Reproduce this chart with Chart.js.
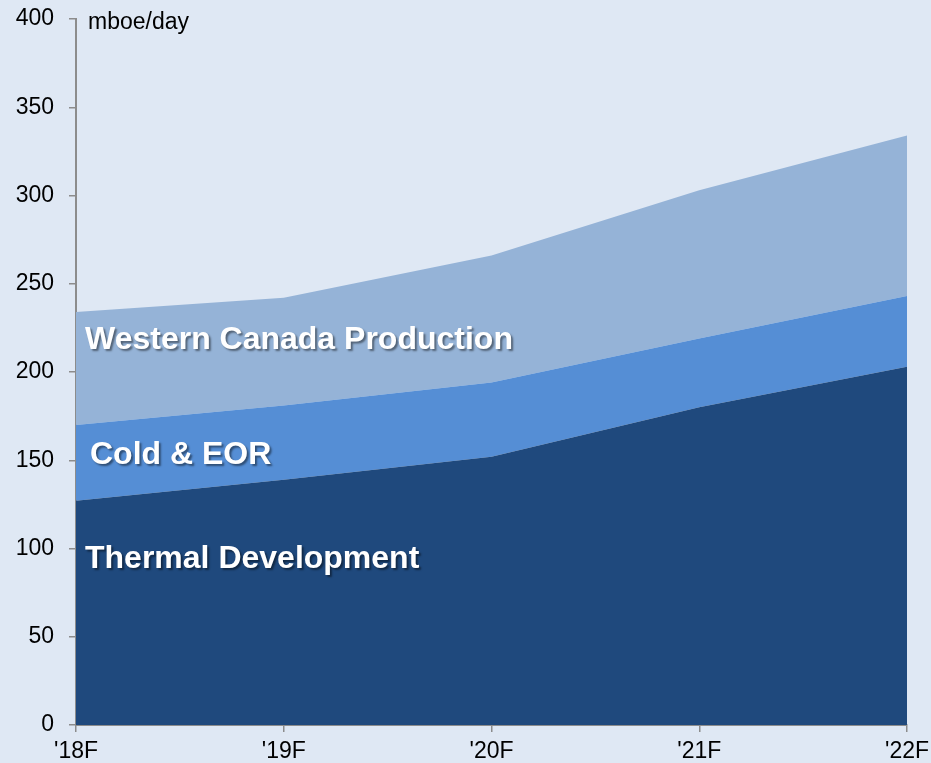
<!DOCTYPE html>
<html>
<head>
<meta charset="utf-8">
<script src="https://cdn.jsdelivr.net/npm/chart.js@4"></script>
<style>
  html, body { margin: 0; padding: 0; background: #dfe8f4; }
  #wrap { width: 931px; height: 763px; }
</style>
</head>
<body>
<div id="wrap"><canvas id="chart" width="931" height="763"></canvas></div>
<script>
// chart data (mboe/day), stacked
const years = ["'18F", "'19F", "'20F", "'21F", "'22F"];
const thermal = [127, 139, 152, 180, 203];
const coldEor = [43, 42, 42, 39, 40];
const western = [64, 61, 72, 84, 91];
const unitLabel = "mboe/day";

const tickFont = { family: "'Liberation Sans', Arial, sans-serif", size: 23 };

// labels drawn inside the areas
const areaLabels = [
  { text: "Western Canada Production", x: 0, y: 218, dx: 9 },
  { text: "Cold & EOR", x: 0, y: 153, dx: 14 },
  { text: "Thermal Development", x: 0, y: 94, dx: 9 },
];

const labelPlugin = {
  id: "areaLabels",
  afterDatasetsDraw(chart) {
    const { ctx, scales, chartArea } = chart;
    ctx.save();
    ctx.font = "bold 32px 'Liberation Sans', Arial, sans-serif";
    ctx.textBaseline = "middle";
    ctx.textAlign = "left";
    ctx.shadowColor = "rgba(0,0,0,0.45)";
    ctx.shadowOffsetX = 2;
    ctx.shadowOffsetY = 2;
    ctx.shadowBlur = 2;
    ctx.fillStyle = "#ffffff";
    areaLabels.forEach(l => {
      const px = scales.x.getPixelForValue(l.x) + l.dx;
      const py = scales.y.getPixelForValue(l.y);
      ctx.fillText(l.text, px, py);
    });
    ctx.restore();

    ctx.save();
    ctx.font = "23px 'Liberation Sans', Arial, sans-serif";
    ctx.fillStyle = "#000000";
    ctx.textBaseline = "middle";
    ctx.fillText(unitLabel, chartArea.left + 12, chartArea.top + 4);
    ctx.restore();
  }
};

new Chart(document.getElementById("chart"), {
  type: "line",
  data: {
    labels: years,
    datasets: [
      { label: "Thermal Development", data: thermal, backgroundColor: "#1f497d", fill: "origin" },
      { label: "Cold & EOR", data: coldEor, backgroundColor: "#558ed5", fill: "-1" },
      { label: "Western Canada Production", data: western, backgroundColor: "#95b3d7", fill: "-1" },
    ].map(d => ({ ...d, borderWidth: 0, pointRadius: 0, tension: 0 })),
  },
  options: {
    responsive: false,
    animation: false,
    layout: { padding: { top: 19, right: 24, left: 0, bottom: 0 } },
    plugins: {
      legend: { display: false },
      tooltip: { enabled: false },
    },
    scales: {
      x: {
        offset: false,
        grid: { display: true, drawOnChartArea: false, tickLength: 7, color: "#8c8c8c", lineWidth: 1.5 },
        border: { color: "#8c8c8c", width: 2 },
        ticks: { color: "#000", font: tickFont, padding: 6, maxRotation: 0 },
        afterFit(scale) {
          scale.paddingLeft = 0;
          scale.paddingRight = 0;
          scale.height = 38;
        },
      },
      y: {
        stacked: true,
        min: 0,
        max: 400,
        grid: { display: true, drawOnChartArea: false, tickLength: 7, color: "#8c8c8c", lineWidth: 1.5 },
        border: { color: "#8c8c8c", width: 2 },
        ticks: { stepSize: 50, color: "#000", font: tickFont, padding: 15 },
        afterFit(scale) {
          scale.width = 76;
          scale.paddingTop = 0;
          scale.paddingBottom = 0;
        },
      },
    },
  },
  plugins: [labelPlugin],
});
</script>
</body>
</html>
